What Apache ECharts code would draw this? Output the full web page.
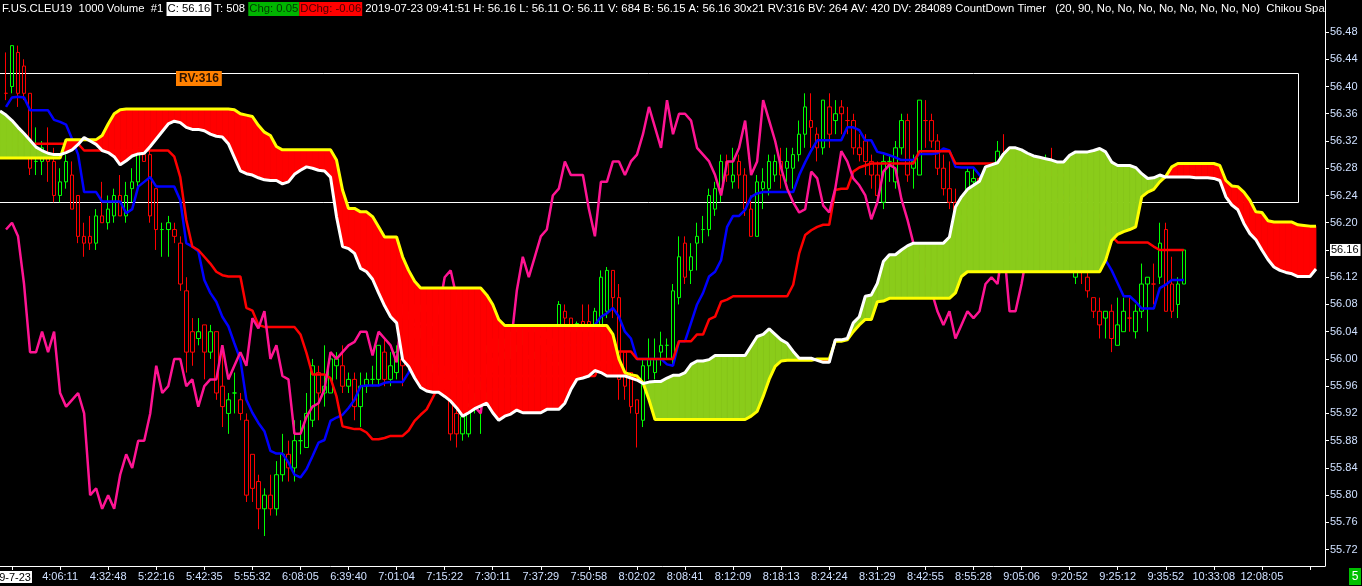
<!DOCTYPE html>
<html><head><meta charset="utf-8">
<script src="https://cdn.jsdelivr.net/npm/echarts@6/dist/echarts.min.js"></script>
<style>html,body{margin:0;padding:0;background:#000;overflow:hidden}#c{width:1362px;height:586px}</style>
</head><body><div id="c"></div>
<script>
// ---- DATA (bar index = position on the time axis) ----
// candles: [open, close, low, high]; bar 0 has no visible candle
const ohlc = ['-',
[56.39,56.39,56.38,56.45],[56.40,56.46,56.39,56.46],[56.45,56.39,56.37,56.46],[56.43,56.39,56.38,56.44],[56.39,56.28,56.27,56.39],
[56.29,56.29,56.27,56.34],[56.29,56.31,56.27,56.32],[56.30,56.29,56.26,56.34],[56.29,56.24,56.23,56.31],[56.24,56.26,56.23,56.28],
[56.26,56.29,56.25,56.30],[56.27,56.22,56.22,56.29],[56.24,56.18,56.17,56.24],[56.18,56.17,56.15,56.20],[56.18,56.17,56.16,56.21],
[56.17,56.21,56.16,56.22],[56.21,56.20,56.20,56.26],[56.20,56.22,56.19,56.24],[56.21,56.24,56.20,56.25],[56.24,56.21,56.21,56.27],
[56.21,56.24,56.20,56.26],[56.25,56.26,56.23,56.28],[56.26,56.31,56.25,56.32],[56.30,56.29,56.29,56.31],[56.30,56.21,56.20,56.31],
[56.25,56.19,56.16,56.25],[56.19,56.19,56.15,56.20],[56.19,56.20,56.15,56.21],[56.19,56.18,56.17,56.20],[56.17,56.11,56.10,56.18],
[56.10,56.01,55.98,56.12],[56.04,56.01,55.99,56.06],[56.03,56.04,56.02,56.06],[56.05,56.01,55.97,56.05],[56.01,56.04,56.00,56.05],
[56.04,55.95,55.94,56.04],[55.96,55.93,55.90,56.02],[55.92,55.94,55.89,55.95],[55.95,55.95,55.92,55.98],[55.94,55.92,55.91,55.95],
[55.91,55.80,55.79,55.92],[55.86,55.81,55.79,55.86],[55.82,55.78,55.75,55.83],[55.78,55.80,55.74,55.81],[55.80,55.78,55.77,55.83],
[55.78,55.83,55.77,55.85],[55.83,55.86,55.82,55.89],[55.86,55.84,55.82,55.88],[55.84,55.88,55.82,55.91],[55.88,55.88,55.86,55.91],
[55.87,55.92,55.87,55.95],[55.91,55.99,55.90,56.00],[55.98,55.95,55.91,55.99],[55.95,55.96,55.93,56.02],[55.95,56.00,55.95,56.01],
[55.99,56.00,55.97,56.01],[55.99,55.96,55.95,56.02],[55.96,55.97,55.95,55.98],[55.97,55.93,55.91,55.98],[55.93,55.96,55.90,55.98],
[55.96,55.97,55.95,55.98],[55.97,55.97,55.96,55.99],[55.97,56.02,55.96,56.02],[56.01,55.97,55.96,56.03],[55.97,55.99,55.96,56.01],
[55.98,56.01,55.97,56.02],[56.00,55.99,55.96,56.02],[55.99,56.06,55.98,56.07],[56.06,56.045,56.03,56.08],[56.045,56.07,56.03,56.08],
[56.07,56.00,55.99,56.08],[56.00,56.02,55.98,56.03],[56.02,55.975,55.96,56.02],[55.975,55.97,55.955,55.99],[55.97,55.89,55.88,55.98],
[55.92,55.89,55.87,55.93],[55.89,55.915,55.88,55.92],[55.89,55.93,55.885,55.935],[55.93,55.935,55.92,55.95],[55.93,55.955,55.89,55.97],
[55.95,56.01,55.94,56.02],[56.01,56.00,55.98,56.03],[56.00,56.01,55.99,56.03],[56.01,56.02,56.00,56.03],[56.02,56.025,56.00,56.04],
[56.02,56.04,56.01,56.045],[56.04,56.04,56.02,56.045],[56.04,56.005,56.00,56.045],[56.01,56.04,56.00,56.045],[56.035,56.03,56.02,56.045],
[56.03,56.02,56.01,56.04],[56.02,55.995,55.99,56.03],[55.995,56.08,55.99,56.085],[56.07,56.06,56.05,56.08],[56.06,56.05,56.04,56.06],
[56.05,56.052,56.04,56.055],[56.055,56.05,56.04,56.08],[56.055,56.05,56.04,56.08],[56.05,56.07,56.04,56.075],[56.05,56.12,56.04,56.13],
[56.07,56.13,56.06,56.135],[56.13,56.09,56.06,56.13],[56.09,55.97,55.94,56.11],[56.01,55.96,55.94,56.01],[55.98,55.93,55.92,55.98],
[55.94,55.92,55.87,55.94],[55.91,55.99,55.90,56.00],[55.99,56.00,55.97,56.03],[55.98,56.00,55.97,56.03],[56.01,56.02,55.99,56.04],
[56.02,56.02,56.00,56.03],[56.00,56.10,55.99,56.11],[56.09,56.15,56.08,56.18],[56.17,56.12,56.11,56.18],[56.13,56.15,56.11,56.17],
[56.17,56.18,56.13,56.20],[56.19,56.19,56.17,56.21],[56.19,56.24,56.18,56.25],[56.22,56.25,56.21,56.26],[56.25,56.29,56.23,56.30],
[56.29,56.27,56.26,56.30],[56.26,56.27,56.25,56.31],[56.29,56.27,56.25,56.30],[56.27,56.22,56.21,56.28],[56.22,56.18,56.18,56.24],
[56.18,56.26,56.18,56.27],[56.25,56.26,56.22,56.28],[56.25,56.29,56.24,56.30],[56.27,56.29,56.26,56.30],[56.29,56.27,56.25,56.31],
[56.28,56.29,56.26,56.31],[56.28,56.30,56.25,56.31],[56.30,56.33,56.29,56.35],[56.33,56.37,56.31,56.39],[56.35,56.34,56.31,56.39],
[56.33,56.31,56.29,56.34],[56.31,56.38,56.30,56.38],[56.37,56.33,56.31,56.39],[56.35,56.36,56.33,56.38],[56.37,56.36,56.33,56.38],
[56.35,56.35,56.33,56.37],[56.35,56.31,56.30,56.36],[56.31,56.30,56.29,56.33],[56.32,56.29,56.27,56.33],[56.29,56.27,56.25,56.30],
[56.27,56.24,56.23,56.29],[56.23,56.29,56.22,56.30],[56.29,56.29,56.26,56.30],[56.26,56.31,56.25,56.32],[56.31,56.35,56.30,56.36],
[56.35,56.27,56.26,56.36],[56.28,56.29,56.25,56.30],[56.27,56.38,56.27,56.38],[56.35,56.35,56.31,56.38],[56.35,56.32,56.31,56.36],
[56.32,56.28,56.27,56.33],[56.28,56.25,56.24,56.30],[56.25,56.23,56.22,56.29],[56.23,56.215,56.20,56.25],[56.21,56.22,56.20,56.24],
[56.22,56.275,56.21,56.28],[56.26,56.265,56.25,56.28],[56.265,56.225,56.22,56.27],[56.225,56.215,56.20,56.24],[56.215,56.25,56.21,56.26],
[56.25,56.305,56.24,56.32],[56.30,56.29,56.28,56.33],[56.29,56.265,56.26,56.30],[56.265,56.255,56.25,56.28],[56.255,56.24,56.23,56.27],
[56.24,56.205,56.20,56.25],[56.205,56.23,56.20,56.24],[56.23,56.275,56.22,56.28],[56.275,56.285,56.27,56.30],[56.29,56.28,56.27,56.31],
[56.28,56.235,56.23,56.29],[56.235,56.205,56.20,56.24],[56.205,56.17,56.16,56.21],[56.12,56.15,56.11,56.17],[56.15,56.13,56.11,56.16],
[56.12,56.10,56.09,56.13],[56.09,56.07,56.06,56.09],[56.07,56.05,56.03,56.09],[56.06,56.07,56.03,56.07],[56.07,56.03,56.01,56.08],
[56.02,56.05,56.02,56.09],[56.04,56.07,56.04,56.09],[56.06,56.06,56.04,56.09],[56.04,56.07,56.03,56.08],[56.07,56.11,56.06,56.14],
[56.11,56.12,56.04,56.12],[56.11,56.11,56.08,56.14],[56.12,56.17,56.11,56.20],[56.19,56.07,56.07,56.20],[56.11,56.07,56.06,56.15],
[56.08,56.11,56.06,56.12],[56.11,56.16,56.11,56.16]];

// Tenkan-sen (blue)
const tenkan = [null,56.37,56.384,56.385,56.384,56.365,56.365,56.365,56.365,56.351,
56.348,56.344,56.323,56.30,56.245,56.245,56.245,56.231,56.231,56.231,
56.231,56.214,56.22,56.253,56.26,56.267,56.253,56.253,56.253,56.253,
56.233,56.17,56.165,56.158,56.116,56.097,56.084,56.062,56.048,56.023,
55.999,55.94,55.921,55.906,55.894,55.865,55.861,55.861,55.848,55.83,
55.826,55.838,55.857,55.877,55.881,55.909,55.914,55.918,55.928,55.94,
55.96,55.961,55.961,55.961,55.965,55.966,55.966,55.966,55.98,56.0,
56.0,56.0,55.995,55.99,55.98,55.975,55.975,55.975,55.975,55.975,
55.97,55.96,55.955,55.955,55.955,55.96,55.96,55.96,55.96,55.96,
55.99,56.0,56.01,56.01,56.02,56.02,56.02,56.02,56.03,56.05,
56.062,56.067,56.075,56.062,56.04,56.03,56.0,56.0,56.0,56.0,
56.0,55.992,55.99,56.026,56.026,56.053,56.08,56.097,56.121,56.128,
56.145,56.194,56.21,56.21,56.219,56.238,56.243,56.245,56.245,56.245,
56.245,56.245,56.245,56.27,56.289,56.306,56.321,56.321,56.321,56.321,
56.321,56.34,56.34,56.336,56.321,56.321,56.304,56.302,56.299,56.296,
56.292,56.292,56.292,56.301,56.301,56.301,56.302,56.309,56.306,56.282,
56.281,56.281,56.281,56.27,56.26,56.26,56.26,56.265,56.265,56.265,
56.265,56.265,56.255,56.255,56.25,56.25,56.25,56.245,56.235,56.22,
56.21,56.20,56.19,56.17,56.145,56.13,56.111,56.092,56.092,56.084,
56.074,56.074,56.074,56.104,56.109,56.116,56.116,56.116];

// Kijun-sen (red)
const kijun = [56.316,56.316,56.316,56.316,56.316,56.316,56.316,56.316,56.316,56.316,
56.316,56.316,56.316,56.316,56.306,56.306,56.306,56.306,56.306,56.306,
56.306,56.306,56.306,56.306,56.306,56.306,56.306,56.306,56.306,56.297,
56.267,56.204,56.165,56.16,56.15,56.14,56.128,56.123,56.121,56.121,
56.121,56.075,56.071,56.05,56.047,56.047,56.047,56.047,56.047,56.047,
56.036,56.009,55.977,55.977,55.977,55.972,55.945,55.901,55.899,55.897,
55.897,55.892,55.882,55.882,55.884,55.887,55.887,55.887,55.895,55.909,
55.918,55.926,55.943,55.96,55.975,55.975,55.975,55.975,55.975,55.975,
55.975,55.975,55.975,55.975,55.975,55.975,55.975,55.975,55.975,55.975,
55.975,55.975,55.975,55.975,55.975,55.975,55.975,55.975,55.975,55.975,
55.995,55.995,55.995,56.011,56.011,56.011,56.0,56.0,56.0,56.0,
56.0,56.0,56.0,56.026,56.026,56.026,56.036,56.036,56.058,56.062,
56.084,56.087,56.092,56.092,56.092,56.092,56.092,56.092,56.092,56.092,
56.092,56.092,56.109,56.155,56.182,56.189,56.194,56.197,56.197,56.248,
56.25,56.25,56.275,56.281,56.284,56.287,56.287,56.287,56.287,56.287,
56.287,56.287,56.287,56.305,56.305,56.305,56.305,56.305,56.305,56.287,
56.287,56.287,56.287,56.287,56.287,56.287,56.287,56.287,56.287,56.287,
56.287,56.27,56.27,56.27,56.27,56.27,56.27,56.27,56.26,56.25,
56.25,56.24,56.22,56.21,56.19,56.18,56.171,56.171,56.171,56.171,
56.171,56.171,56.165,56.16,56.16,56.16,56.16,56.16];

// Chikou span (pink), plotted 26 bars back
const chikou = [null,56.19,56.20,56.18,56.11,56.01,56.01,56.04,56.01,56.04,
55.95,55.93,55.94,55.95,55.92,55.80,55.81,55.78,55.80,55.78,
55.83,55.86,55.84,55.88,55.88,55.92,55.99,55.95,55.96,56.00,
56.00,55.96,55.97,55.93,55.96,55.97,55.97,56.02,55.97,55.99,
56.01,55.99,56.06,56.045,56.07,56.00,56.02,55.975,55.97,55.89,
55.89,55.915,55.93,55.935,55.955,56.01,56.00,56.01,56.02,56.025,
56.04,56.04,56.005,56.04,56.03,56.02,55.995,56.08,56.06,56.05,
56.052,56.05,56.05,56.07,56.12,56.13,56.09,55.97,55.96,55.93,
55.92,55.99,56.00,56.00,56.02,56.02,56.10,56.15,56.12,56.15,
56.18,56.19,56.24,56.25,56.29,56.27,56.27,56.27,56.22,56.18,
56.26,56.26,56.29,56.29,56.27,56.29,56.30,56.33,56.37,56.34,
56.31,56.38,56.33,56.36,56.36,56.35,56.31,56.30,56.29,56.27,
56.24,56.29,56.29,56.31,56.35,56.27,56.29,56.38,56.35,56.32,
56.28,56.25,56.23,56.215,56.22,56.275,56.265,56.225,56.215,56.25,
56.305,56.29,56.265,56.255,56.24,56.205,56.23,56.275,56.285,56.28,
56.235,56.205,56.17,56.15,56.13,56.10,56.07,56.05,56.07,56.03,
56.05,56.07,56.06,56.07,56.11,56.12,56.11,56.17,56.07,56.07,
56.11,56.16];

// Senkou span A (white edge) and B (yellow edge), plotted 26 bars forward
const senkouA = [56.364,56.358,56.35,56.34,56.331,56.321,56.311,56.306,56.302,56.30,
56.30,56.303,56.307,56.315,56.325,56.32,56.315,56.306,56.303,56.297,
56.285,56.291,56.298,56.301,56.302,56.312,56.323,56.334,56.345,56.349,
56.347,56.34,56.337,56.337,56.335,56.33,56.327,56.326,56.316,56.296,
56.276,56.272,56.27,56.266,56.263,56.262,56.262,56.257,56.26,56.271,
56.277,56.282,56.28,56.277,56.276,56.267,56.209,56.165,56.162,56.155,
56.133,56.128,56.117,56.097,56.078,56.062,56.053,55.999,55.989,55.972,
55.958,55.953,55.951,55.951,55.945,55.938,55.928,55.916,55.921,55.927,
55.931,55.935,55.921,55.91,55.916,55.919,55.925,55.921,55.921,55.921,
55.921,55.926,55.926,55.926,55.935,55.955,55.97,55.972,55.975,55.983,
55.98,55.975,55.975,55.975,55.975,55.972,55.969,55.964,55.966,55.967,
55.967,55.972,55.976,55.976,55.98,55.992,55.997,55.997,55.999,56.005,
56.005,56.005,56.005,56.005,56.005,56.019,56.033,56.036,56.044,56.036,
56.028,56.023,56.011,56.001,56.001,56.001,55.998,55.995,55.995,56.028,
56.028,56.03,56.053,56.062,56.092,56.094,56.111,56.143,56.153,56.153,
56.16,56.166,56.17,56.17,56.17,56.17,56.17,56.17,56.179,56.223,
56.238,56.249,56.255,56.261,56.282,56.285,56.288,56.301,56.31,56.31,
56.307,56.302,56.298,56.296,56.294,56.292,56.289,56.289,56.299,56.304,
56.304,56.304,56.306,56.309,56.304,56.289,56.284,56.284,56.284,56.281,
56.272,56.265,56.266,56.27,56.267,56.267,56.267,56.267,56.267,56.266,
56.266,56.266,56.265,56.262,56.238,56.226,56.219,56.199,56.184,56.175,
56.16,56.146,56.135,56.13,56.127,56.125,56.121,56.121,56.121,56.132];

const senkouB = [56.295,56.295,56.295,56.295,56.295,56.295,56.295,56.295,56.295,56.295,
56.295,56.322,56.322,56.322,56.322,56.322,56.322,56.328,56.345,56.36,
56.366,56.367,56.367,56.367,56.367,56.367,56.367,56.367,56.367,56.367,
56.367,56.367,56.367,56.367,56.367,56.367,56.367,56.367,56.367,56.366,
56.36,56.358,56.356,56.343,56.333,56.328,56.312,56.307,56.307,56.307,
56.307,56.307,56.307,56.307,56.307,56.307,56.292,56.248,56.221,56.221,
56.216,56.216,56.209,56.194,56.179,56.179,56.179,56.15,56.13,56.114,
56.104,56.104,56.104,56.104,56.104,56.104,56.104,56.104,56.104,56.104,
56.104,56.094,56.08,56.058,56.049,56.049,56.049,56.049,56.049,56.049,
56.049,56.049,56.049,56.049,56.049,56.049,56.049,56.049,56.049,56.049,
56.049,56.049,56.036,56.0,55.98,55.977,55.975,55.965,55.94,55.911,
55.911,55.911,55.911,55.911,55.911,55.911,55.911,55.911,55.911,55.911,
55.911,55.911,55.911,55.911,55.911,55.916,55.923,55.945,55.97,55.989,
55.997,55.998,55.998,55.998,55.998,55.998,56.0,56.0,56.0,56.026,
56.026,56.028,56.04,56.05,56.058,56.058,56.084,56.085,56.089,56.089,
56.089,56.089,56.089,56.089,56.089,56.089,56.089,56.089,56.089,56.097,
56.121,56.128,56.128,56.128,56.128,56.128,56.128,56.128,56.128,56.128,
56.128,56.128,56.128,56.128,56.128,56.128,56.128,56.128,56.128,56.128,
56.128,56.128,56.128,56.128,56.145,56.174,56.183,56.187,56.19,56.194,
56.238,56.245,56.249,56.26,56.268,56.282,56.287,56.287,56.287,56.287,
56.287,56.287,56.287,56.284,56.262,56.254,56.253,56.245,56.233,56.216,
56.215,56.203,56.201,56.201,56.201,56.201,56.197,56.196,56.195,56.195];

// time axis labels (one every 8 bars, starting at bar 2)
const timeLabels = ['19-7-23','4:06:11','4:32:48','5:22:16','5:42:35','5:55:32','6:08:05','6:39:40','7:01:04',
'7:15:22','7:30:11','7:37:29','7:50:58','8:02:02','8:08:41','8:12:09','8:18:13','8:24:24','8:31:29',
'8:42:55','8:55:28','9:05:06','9:20:52','9:25:12','9:35:52','10:33:08','12:08:05'];
const firstLabelBar = 2, labelStep = 8, barCount = 221;

// price scale labels
const priceTicks = [55.72,55.76,55.80,55.84,55.88,55.92,55.96,56.00,56.04,56.08,56.12,56.16,56.20,56.24,56.28,56.32,56.36,56.40,56.44,56.48];
const lastPrice = 56.16;

// drawn range box
const boxTop = 56.42, boxBottom = 56.23, boxEndBar = 216;

// ---- CHART ----
const bars = Array.from({length: barCount}, (_, i) => String(i));
const cloudSegs = [];
for (let i = 0; i < senkouA.length - 1; i++) cloudSegs.push([i, senkouA[i], senkouB[i], senkouA[i + 1], senkouB[i + 1]]);

const UP = '#8acc1a', DN = '#ff0000';
function renderCloud(params, api) {
  const i = api.value(0);
  const a1 = api.value(1), b1 = api.value(2), a2 = api.value(3), b2 = api.value(4);
  const A1 = api.coord([i, a1]), B1 = api.coord([i, b1]);
  const A2 = api.coord([i + 1, a2]), B2 = api.coord([i + 1, b2]);
  const d1 = a1 - b1, d2 = a2 - b2;
  const col = d => d >= 0 ? UP : DN;
  const poly = (pts, c) => ({type: 'polygon', shape: {points: pts}, style: {fill: c, stroke: c, lineWidth: 0.8}});
  const ch = [];
  if (d1 * d2 < 0) {
    const t = d1 / (d1 - d2);
    const M = [A1[0] + t * (A2[0] - A1[0]), A1[1] + t * (A2[1] - A1[1])];
    ch.push(poly([A1, M, B1], col(d1)));
    ch.push(poly([M, A2, B2], col(d2)));
  } else {
    ch.push(poly([A1, A2, B2, B1], col(d1 + d2)));
  }
  return {type: 'group', children: ch};
}
function renderBox(params, api) {
  const p1 = api.coord([0, boxTop]);
  const p2 = api.coord([boxEndBar, boxBottom]);
  const x0 = p1[0] - 20, y0 = Math.round(p1[1]) + 0.5, x1 = Math.round(p2[0]) + 0.5, y1 = Math.round(p2[1]) + 0.5;
  return {type: 'polyline', shape: {points: [[x0, y0], [x1, y0], [x1, y1], [x0, y1]]},
    style: {stroke: '#ffffff', lineWidth: 1, fill: null}};
}

const chart = echarts.init(document.getElementById('c'), null, {renderer: 'canvas'});
const labelColor = '#cfe0ff';
const font = '"Liberation Sans", Arial, sans-serif';
const hfs = 11.3;
chart.setOption({
  backgroundColor: '#000',
  animation: false,
  grid: {left: -3, right: 37, top: 0, bottom: 20, containLabel: false, outerBoundsMode: 'none'},
  xAxis: {
    type: 'category', data: bars, boundaryGap: true,
    axisLine: {show: true, lineStyle: {color: '#fff', width: 1}},
    axisTick: {show: true, alignWithLabel: true, length: 4, lineStyle: {color: '#fff'},
      interval: (idx) => idx >= firstLabelBar && (idx - firstLabelBar) % labelStep === 0},
    axisLabel: {
      interval: (idx) => idx >= firstLabelBar && (idx - firstLabelBar) % labelStep === 0,
      color: labelColor, fontSize: 11, fontFamily: font, margin: 5,
      formatter: (v, idx) => {
        const k = (idx - firstLabelBar) / labelStep;
        const t = timeLabels[k] || '';
        return k === 0 ? '{d|' + t + '}' : t;
      },
      rich: {d: {backgroundColor: '#fff', color: '#000', fontSize: 11, fontFamily: font, padding: [1, 1, 0, 1]}}
    },
    splitLine: {show: false}
  },
  yAxis: {
    type: 'value', position: 'right', min: 55.696, max: 56.527, scale: true,
    axisLine: {show: true, lineStyle: {color: '#fff', width: 1}},
    axisTick: {show: true, length: 4, lineStyle: {color: '#fff'}, customValues: priceTicks},
    axisLabel: {customValues: priceTicks, color: labelColor, fontSize: 11, fontFamily: font, margin: 5,
      formatter: v => Math.abs(v - lastPrice) < 1e-6 ? '{hl|' + v.toFixed(2) + '}' : v.toFixed(2),
      rich: {hl: {backgroundColor: '#fff', color: '#000', fontSize: 11, fontFamily: font, padding: [1, 2, 0, 1]}}},
    splitLine: {show: false}
  },
  series: [
    {type: 'custom', name: 'box', data: [[0]], renderItem: renderBox, z: 1, silent: true, clip: true},
    {type: 'candlestick', name: 'price', data: ohlc, barWidth: 4, z: 2,
      itemStyle: {color: 'rgba(0,0,0,0)', color0: 'rgba(0,0,0,0)', borderColor: '#00ff00', borderColor0: '#ff0000', borderWidth: 1}},
    {type: 'line', name: 'Tenkan', data: tenkan, symbol: 'none', z: 3, lineStyle: {color: '#0000ff', width: 2.5}},
    {type: 'line', name: 'Kijun', data: kijun, symbol: 'none', z: 3, lineStyle: {color: '#ff0000', width: 2.5}},
    {type: 'line', name: 'Chikou', data: chikou, symbol: 'none', z: 3, lineStyle: {color: '#ff1493', width: 2.5}},
    {type: 'custom', name: 'cloud', data: cloudSegs, renderItem: renderCloud, z: 4, silent: true, clip: true,
      encode: {x: 0, y: [1, 2, 3, 4]}},
    {type: 'line', name: 'SenkouB', data: senkouB, symbol: 'none', z: 5, lineStyle: {color: '#ffff00', width: 3}},
    {type: 'line', name: 'SenkouA', data: senkouA, symbol: 'none', z: 6, lineStyle: {color: '#ffffff', width: 3}}
  ],
  graphic: [
    {type: 'text', left: 2, top: 2, z: 100, silent: true, style: {
      text: '{n|F.US.CLEU19  1000 Volume  #1 }{w|C: 56.16}{n| T: 508 }{g|Chg: 0.05}{r|DChg: -0.06}{n| 2019-07-23 09:41:51 H: 56.16 L: 56.11 O: 56.11 V: 684 B: 56.15 A: 56.16 30x21 RV:316 BV: 264 AV: 420 DV: 284089 CountDown Timer   (20, 90, No, No, No, No, No, No, No, No)  Chikou Span}',
      rich: {
        n: {fill: '#ffffff', fontSize: hfs, fontFamily: font, height: 14, lineHeight: 14},
        w: {fill: '#000000', backgroundColor: '#ffffff', fontSize: hfs, fontFamily: font, height: 14, lineHeight: 14, padding: [0, 1]},
        g: {fill: '#003a00', backgroundColor: '#00b400', fontSize: hfs, fontFamily: font, height: 14, lineHeight: 14, padding: [0, 1]},
        r: {fill: '#4a0000', backgroundColor: '#ff0000', fontSize: hfs, fontFamily: font, height: 14, lineHeight: 14, padding: [0, 1]}
      }}},
    {type: 'rect', z: 101, silent: true, shape: {x: 1326, y: 0, width: 36, height: 19}, style: {fill: '#000'}},
    {type: 'text', left: 176, top: 71, z: 100, silent: true, style: {
      text: 'RV:316', fill: '#2a1200', backgroundColor: '#ff8000', font: 'bold 12px ' + font, padding: [2, 3, 1, 3]}},
    {type: 'rect', z: 100, silent: true, shape: {x: 1349, y: 568, width: 12, height: 17}, style: {fill: '#00c000'}},
    {type: 'text', z: 101, silent: true, x: 1355, y: 577, style: {text: '5', fill: '#fff', font: '12px ' + font, align: 'center', verticalAlign: 'middle'}}
  ]
});
</script></body></html>
